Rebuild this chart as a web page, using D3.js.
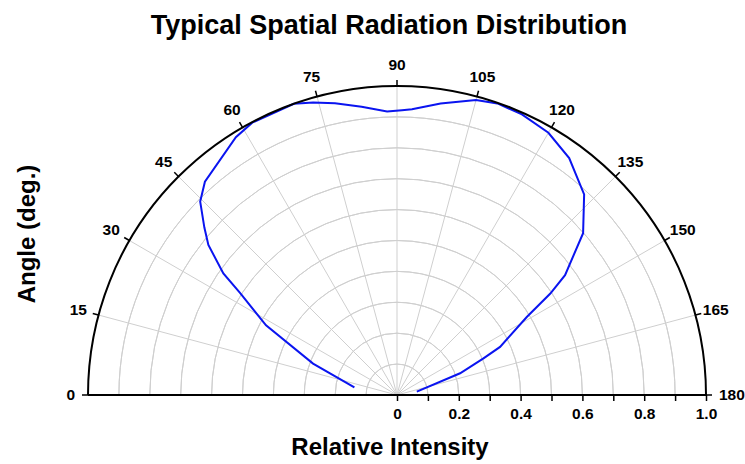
<!DOCTYPE html>
<html>
<head>
<meta charset="utf-8">
<script src="https://cdn.jsdelivr.net/npm/d3@7"></script>
<style>
  body { margin: 0; background: #fff; }
  svg { font-family: "Liberation Sans", Arial, sans-serif; }
  .grid { stroke: #cfcfcf; stroke-width: 1; fill: none; }
  .lbl { font-size: 15.5px; font-weight: bold; fill: #000; }
</style>
</head>
<body>
<svg id="chart" width="745" height="464"></svg>
<script>
// angle (deg) and relative intensity
var angles = [10, 20.5, 28, 33, 35, 38.5, 41, 44.5, 48, 58, 62, 70.5, 74, 78, 83, 88, 91, 93,
              98.5, 105, 109, 114, 120, 126, 133, 139, 144.5, 146.5, 149, 155, 157, 161, 170.5];
var intensity = [0.14, 0.29, 0.48, 0.605, 0.686, 0.78, 0.826, 0.893, 0.929, 0.984, 0.998, 1.0, 0.985, 0.965, 0.94, 0.918, 0.922, 0.926,
                 0.954, 0.988, 0.998, 0.994, 0.98, 0.948, 0.888, 0.798, 0.668, 0.595, 0.49, 0.368, 0.304, 0.216, 0.065];
var angleTicks = [0, 15, 30, 45, 60, 75, 90, 105, 120, 135, 150, 165, 180];
var radialTicks = [0, 0.1, 0.2, 0.3, 0.4, 0.5, 0.6, 0.7, 0.8, 0.9, 1.0];

var cx = 397, cy = 395, R = 309;
var svg = d3.select("#chart");
var g = svg.append("g").attr("transform", "translate(" + cx + "," + cy + ")");

var r = d3.scaleLinear().domain([0, 1]).range([0, R]);
// 0 deg on the left, 90 at the top, 180 on the right (d3 angles: 0 = up, clockwise)
var a = d3.scaleLinear().domain([0, 180]).range([-Math.PI / 2, Math.PI / 2]);

function px(deg, rad) { return Math.sin(a(deg)) * rad; }
function py(deg, rad) { return -Math.cos(a(deg)) * rad; }

// grid circles
var arc = d3.arc().startAngle(-Math.PI / 2).endAngle(Math.PI / 2);
g.selectAll(".ring")
  .data(radialTicks.filter(function (d) { return d > 0 && d < 1; }))
  .enter().append("path")
  .attr("class", "grid")
  .attr("d", function (d) { return arc({ innerRadius: r(d), outerRadius: r(d) }); });

// spokes
g.selectAll(".spoke")
  .data(angleTicks.slice(1, -1))
  .enter().append("line")
  .attr("class", "grid")
  .attr("x1", 0).attr("y1", 0)
  .attr("x2", function (d) { return px(d, R); })
  .attr("y2", function (d) { return py(d, R); });

// data curve
var line = d3.lineRadial()
  .angle(function (d) { return a(d[0]); })
  .radius(function (d) { return r(d[1]); });
g.append("path")
  .datum(angles.map(function (d, i) { return [d, intensity[i]]; }))
  .attr("d", line)
  .attr("fill", "none")
  .attr("stroke", "#0a14f0")
  .attr("stroke-width", 2);

// outer arc
g.append("path")
  .attr("d", arc({ innerRadius: R, outerRadius: R }))
  .attr("fill", "none")
  .attr("stroke", "#000")
  .attr("stroke-width", 2);

// angle ticks and labels
g.selectAll(".atick")
  .data(angleTicks)
  .enter().append("line")
  .attr("x1", function (d) { return px(d, R); })
  .attr("y1", function (d) { return py(d, R); })
  .attr("x2", function (d) { return px(d, R + 6); })
  .attr("y2", function (d) { return py(d, R + 6); })
  .attr("stroke", "#000").attr("stroke-width", 1.5);
g.selectAll(".alab")
  .data(angleTicks)
  .enter().append("text")
  .attr("class", "lbl")
  .attr("x", function (d) { return px(d, R + 21); })
  .attr("y", function (d) { return py(d, R + 21); })
  .attr("dy", "0.35em")
  .attr("text-anchor", function (d) { return d === 0 ? "end" : d === 180 ? "start" : "middle"; })
  .attr("dx", function (d) { return d === 0 ? 8 : d === 180 ? -8 : 0; })
  .text(function (d) { return d; });

// baseline across the full diameter
g.append("line")
  .attr("x1", -R).attr("x2", R).attr("y1", 0).attr("y2", 0)
  .attr("stroke", "#000").attr("stroke-width", 2);

// radial axis
var xAxis = d3.axisBottom(r)
  .tickValues(radialTicks)
  .tickSize(6)
  .tickFormat(function (d) {
    var k = Math.round(d * 10);
    if (k % 2) return "";
    return d === 0 ? "0" : d3.format(".1f")(d);
  });
var ax = g.append("g").call(xAxis);
ax.select(".domain").remove();
ax.selectAll(".tick line").attr("stroke", "#000").attr("stroke-width", 1.5);
ax.selectAll(".tick text").attr("class", "lbl").attr("y", 13).attr("font-family", null).attr("font-size", null);

// titles
svg.append("text")
  .attr("x", 389).attr("y", 34)
  .attr("text-anchor", "middle")
  .style("font-size", "27px").style("font-weight", "bold")
  .text("Typical Spatial Radiation Distribution");
svg.append("text")
  .attr("x", 390).attr("y", 455)
  .attr("text-anchor", "middle")
  .style("font-size", "24px").style("font-weight", "bold")
  .text("Relative Intensity");
svg.append("text")
  .attr("transform", "translate(35,234) rotate(-90)")
  .attr("text-anchor", "middle")
  .style("font-size", "24px").style("font-weight", "bold")
  .text("Angle (deg.)");
</script>
</body>
</html>
